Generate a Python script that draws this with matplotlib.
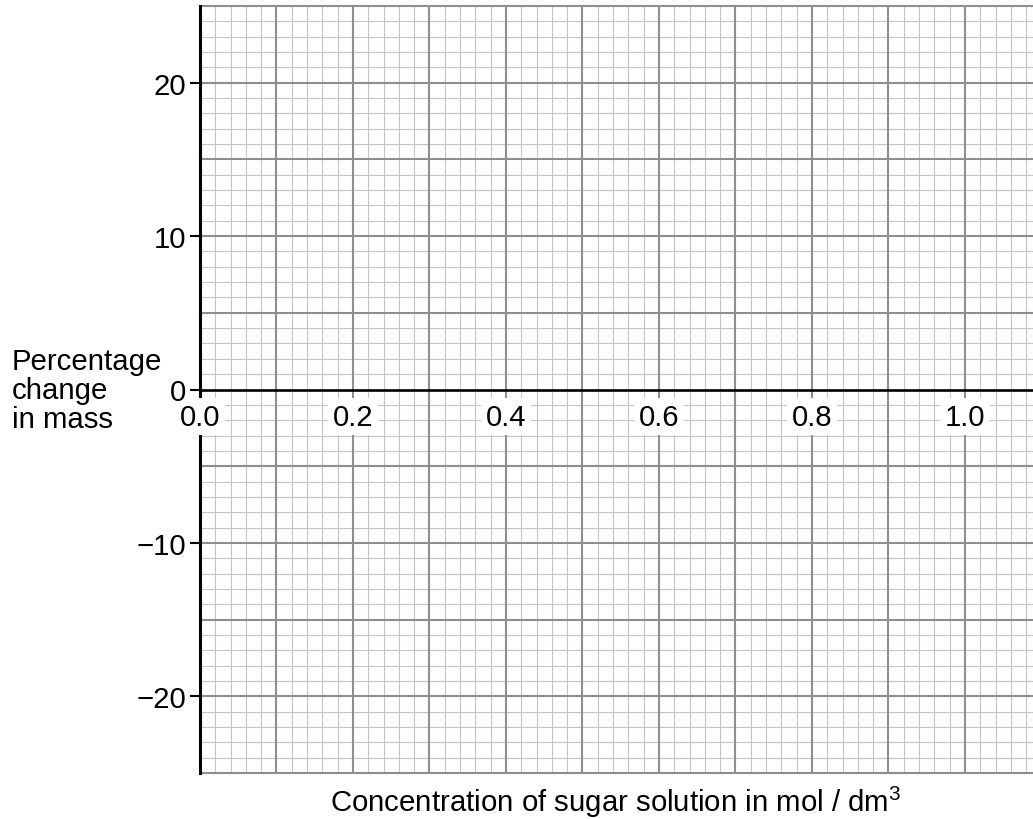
import numpy as np
import matplotlib
matplotlib.use("Agg")
import matplotlib.pyplot as plt

# ---- chart values ----
x_tick_values = [0.0, 0.2, 0.4, 0.6, 0.8, 1.0]
x_tick_labels = ["0.0", "0.2", "0.4", "0.6", "0.8", "1.0"]
y_tick_values = [-20, -10, 0, 10, 20]
y_tick_labels = ["\u221220", "\u221210", "0", "10", "20"]
x_limits = [0.0, 1.089]
y_limits = [-25, 25]
x_label = r"Concentration of sugar solution in mol / dm$^{\mathregular{3}}$"
y_label = "Percentage\nchange\nin mass"

plt.rcParams["font.family"] = ["Liberation Sans", "DejaVu Sans"]
plt.rcParams["mathtext.fontset"] = "custom"
plt.rcParams["mathtext.rm"] = "Liberation Sans"
plt.rcParams["mathtext.it"] = "Liberation Sans"

FS = 21.2
W, H = 1033, 820
fig = plt.figure(figsize=(W / 100, H / 100), dpi=100)
left, right, top, bottom = 200, 1033, 7, 774
ax = fig.add_axes([left / W, (H - bottom) / H, (right - left) / W, (bottom - top) / H])
ax.set_xlim(*x_limits)
ax.set_ylim(*y_limits)

minor_col = "#c4c4c4"
major_col = "#8e8e8e"
# graph paper grid
for xv in np.arange(0, 1.2, 0.02):
    if xv > x_limits[1] + 1e-9:
        break
    if abs(round(xv * 10) - xv * 10) < 1e-6:
        continue
    ax.axvline(xv, color=minor_col, lw=0.8, zorder=1)
for yv in np.arange(-25, 26, 1):
    if yv % 5 == 0:
        continue
    ax.axhline(yv, color=minor_col, lw=0.8, zorder=1)
for xv in np.arange(0.1, 1.2, 0.1):
    if xv > x_limits[1] + 1e-9:
        break
    ax.axvline(xv, color=major_col, lw=1.5, zorder=1.5)
for yv in np.arange(-25, 26, 5):
    if yv == 0:
        continue
    ax.axhline(yv, color=major_col, lw=1.5, zorder=1.5, clip_on=False)

# zero line
ax.axhline(0, color="black", lw=1.9, zorder=3)

for s in ["top", "right", "bottom"]:
    ax.spines[s].set_visible(False)
ax.spines["left"].set_linewidth(2.2)
ax.spines["left"].set_zorder(3)

ax.set_yticks(y_tick_values)
ax.set_yticklabels(y_tick_labels, fontsize=FS)
ax.tick_params(axis="y", direction="out", length=7, width=1.5, pad=3, color="black")
ax.yaxis.set_zorder(6)
ax.set_xticks([])

for xv, lab in zip(x_tick_values, x_tick_labels):
    ax.annotate(lab, xy=(xv, 0), xytext=(0, -9.5), textcoords="offset points",
                ha="center", va="top", fontsize=FS, zorder=5,
                bbox=dict(boxstyle="square,pad=0.15", fc="white", ec="none"))

fig.text(616 / W, 1 - 812 / H, x_label, ha="center", va="baseline", fontsize=FS)
fig.text(12 / W, 1 - 428 / H, y_label, ha="left", va="baseline", fontsize=FS,
         linespacing=1.05, multialignment="left")

fig.savefig("out.png", dpi=100)
